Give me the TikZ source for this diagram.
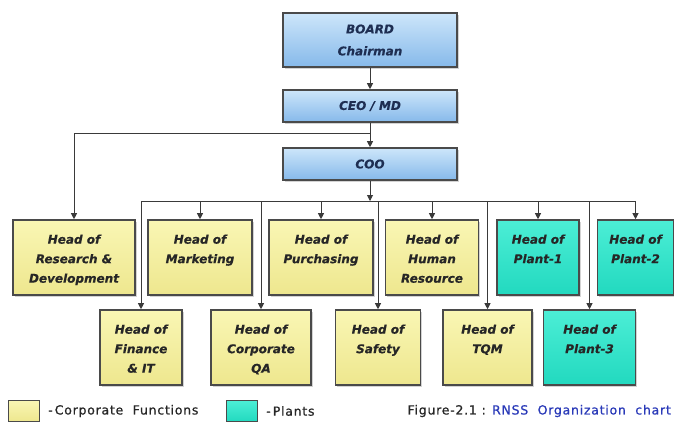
\documentclass[tikz,border=0pt]{standalone}
\usepackage{fontspec}
\setsansfont{DejaVu Sans}
\newfontfamily\legfont{DejaVu Sans}[LetterSpace=6,FakeBold=0.8]
\newfontfamily\boxfont{DejaVu Sans}[FakeBold=0.4]
\usetikzlibrary{arrows.meta,shadows}
\definecolor{boxline}{HTML}{4A4A4A}
\definecolor{wirec}{HTML}{3A3A3A}
\definecolor{ytop}{HTML}{F9F6B4}
\definecolor{ybot}{HTML}{EEE78E}
\definecolor{ctop}{HTML}{4CEED6}
\definecolor{cbot}{HTML}{22D9BF}
\definecolor{btop}{HTML}{CDE6FA}
\definecolor{bbot}{HTML}{86B9EA}
\definecolor{txtc}{HTML}{262626}
\definecolor{navy}{HTML}{1E2E52}
\definecolor{figblue}{HTML}{2A3AB8}
\newcommand{\toplines}[1]{\vbox to 75pt{\vskip 10pt\hbox{\begin{tabular}{@{}c@{}}#1\end{tabular}}\vss}}
\begin{document}
\begin{tikzpicture}[x=1pt,y=-1pt,
  box/.style={draw=boxline, line width=1.6pt, inner sep=0pt, minimum height=75pt,
    drop shadow={shadow xshift=1.5pt, shadow yshift=-1.8pt, opacity=0.35},
    font=\boxfont\bfseries\itshape\fontsize{12}{19.5}\selectfont, text=txtc},
  ybox/.style={box, top color=ytop, bottom color=ybot},
  cbox/.style={box, top color=ctop, bottom color=cbot},
  bbox/.style={draw=boxline, line width=1.6pt, inner sep=0pt, minimum width=174pt,
    drop shadow={shadow xshift=1.5pt, shadow yshift=-1.8pt, opacity=0.35},
    top color=btop, bottom color=bbot, align=center,
    font=\boxfont\bfseries\itshape\fontsize{12}{22}\selectfont, text=navy},
  wire/.style={draw=wirec, line width=0.9pt},
  conn/.style={wire, -{Triangle[length=6pt,width=6pt]}},
  swatch/.style={draw=boxline, line width=1.2pt, minimum width=31pt, minimum height=21pt, inner sep=0pt},
  legtext/.style={font=\legfont\fontsize{12.5}{14}\selectfont, text=txtc, inner sep=0pt}
]
\useasboundingbox (0,0) rectangle (674,424);

% top chain
\node[bbox, minimum height=54pt] (board) at (370,40) {BOARD\\Chairman};
\node[bbox, minimum height=32pt] (ceo) at (370,106) {CEO / MD};
\node[bbox, minimum height=32pt] (coo) at (370,164) {COO};

% top row
\node[ybox, minimum width=122pt] (rd)  at (74,257.5)  {\toplines{Head of\\Research \&\\Development}};
\node[ybox, minimum width=104pt] (mkt) at (200,257.5) {\toplines{Head of\\Marketing}};
\node[ybox, minimum width=104pt] (pur) at (321,257.5) {\toplines{Head of\\Purchasing}};
\node[ybox, minimum width=93pt]  (hr)  at (432,257.5) {\toplines{Head of\\Human\\Resource}};
\node[cbox, minimum width=82pt]  (p1)  at (538,257.5) {\toplines{Head of\\Plant-1}};
\node[cbox, minimum width=76pt]  (p2)  at (635.5,257.5) {\toplines{Head of\\Plant-2}};

% bottom row
\node[ybox, minimum width=82pt]  (fin) at (141,347.5)   {\toplines{Head of\\Finance\\\& IT}};
\node[ybox, minimum width=100pt] (qa)  at (261,347.5)   {\toplines{Head of\\Corporate\\QA}};
\node[ybox, minimum width=85pt]  (saf) at (378,347.5)   {\toplines{Head of\\Safety}};
\node[ybox, minimum width=89pt]  (tqm) at (487.5,347.5) {\toplines{Head of\\TQM}};
\node[cbox, minimum width=92pt]  (p3)  at (589.5,347.5) {\toplines{Head of\\Plant-3}};

% connectors
\coordinate (split) at (370,133);
\coordinate (bus) at (370,201);
\draw[conn] (board) -- (ceo);
\draw[conn] (ceo) -- (coo);
\draw[conn] (split) -| (rd);
\draw[conn] (coo) -- (bus);
\draw[wire] (fin.north |- bus) -- (p2.north |- bus);
\foreach \n in {mkt,pur,hr,p1,p2,fin,qa,saf,tqm,p3}
  \draw[conn] (\n.north |- bus) -- (\n);

% legend
\node[swatch, top color=ytop, bottom color=ybot] (ly) at (24,411) {};
\node[legtext, anchor=west] (lyt) at (48,411) {-\,Corporate~ Functions};
\node[swatch, top color=ctop, bottom color=cbot] (lc) at (242,411) {};
\node[legtext, anchor=west] (lct) at (266,411) {-\,Plants};
\node[legtext, anchor=east] (fig) at (671,411) {Figure-2.1 : \textcolor{figblue}{RNSS~ Organization~ chart}};
\end{tikzpicture}
\end{document}
